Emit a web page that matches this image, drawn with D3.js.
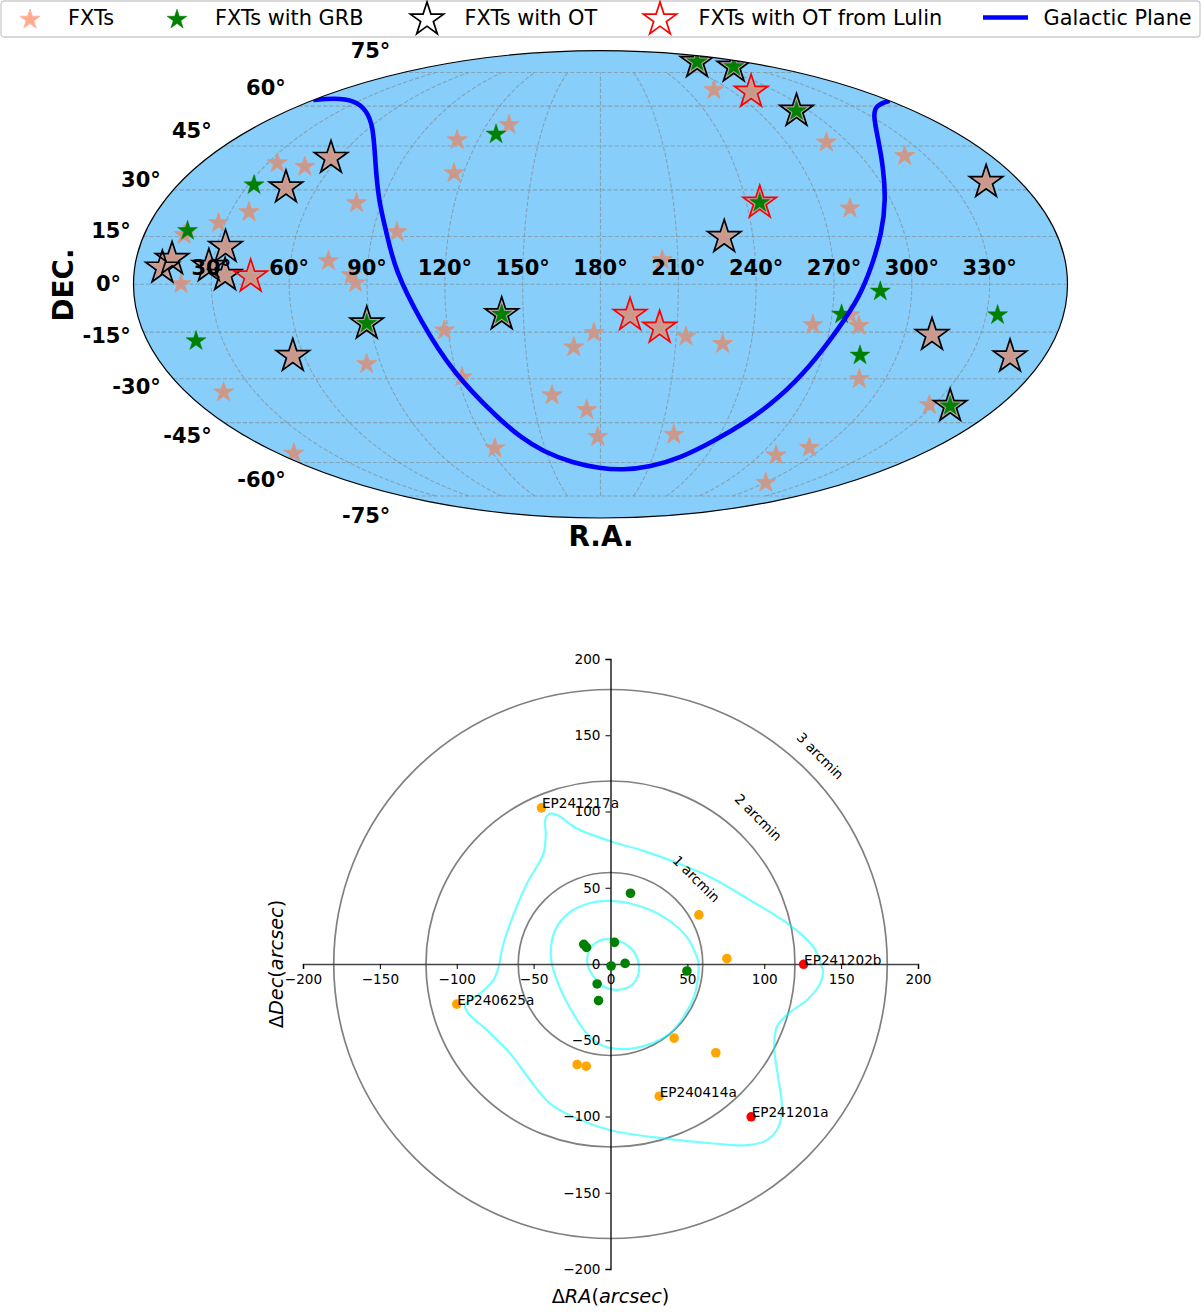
<!DOCTYPE html>
<html lang="en">
<head>
<meta charset="utf-8">
<title>FXT sky map</title>
<script src="https://cdnjs.cloudflare.com/ajax/libs/d3/7.8.5/d3.min.js"></script>
<style>
    html, body { margin: 0; padding: 0; background: #fff; }
    svg { display: block; }
    text { font-family: "DejaVu Sans", sans-serif; fill: #000; }
    .bold { font-weight: bold; }
</style>
</head>
<body>
<svg width="1201" height="1313"></svg>
<script>
// sky map values, [R.A., Dec.] in degrees
var fxts = [[34.3,39.0],[48.1,37.8],[79.7,25.7],[37.5,22.8],[27.4,19.3],[15.8,15.5],[74.6,7.3],[83.8,2.9],[85.6,0.4],[18.3,0.1],
    [99.5,16.4],[258.7,66.8],[131.8,52.7],[109.8,47.1],[115.8,35.6],[203.9,7.6],[289.6,46.3],[320.3,41.5],[281.7,24.0],[84.1,-25.2],
    [16.2,-34.5],[8.8,-56.4],[118.6,-14.4],[121.8,-29.5],[122.9,-54.4],[177.4,-15.2],[169.3,-19.8],[213.8,-16.4],[228.7,-18.7],
    [158.8,-35.5],[173.7,-40.5],[178.6,-50.1],[216.9,-49.3],[263.1,-12.7],[277.0,-9.6],[281.2,-13.0],[289.1,-30.1],[279.2,-57.1],
    [292.6,-54.2],[300.5,-68.6],[328.0,-38.8]];
var otFxts = [[56.5,40.8],[46.8,30.8],[33.6,11.7],[13.9,7.9],[10.7,5.2],[28.6,5.7],[35.2,2.9],[228.7,14.8],[345.3,32.6],[55.4,-22.6],
    [310.9,-15.9],[346.0,-22.8]];
var otGrbs = [[300.6,80.8],[320.8,78.1],[292.7,58.1],[88.6,-12.3],[141.6,-9.4],[337.9,-39.2]];
var lulinFxts = [[45.1,2.4],[282.4,66.0],[191.5,-9.6],[203.2,-13.6]];
var lulinGrbs = [[245.5,25.8]];
var grbs = [[32.5,31.6],[16.5,16.8],[127.5,49.2],[287.9,-2.2],[273.7,-9.4],[285.0,-22.4],[19.3,-17.8],[334.4,-9.6]];
var galacticPlane = [[0,62.5],[0,62.5],[10.3,63.3],[26.2,62.4],[44.7,58.4],[61.4,52.0],[77.4,40.1],[88.2,26.7],[95.5,16.1],[100.6,4.5],[109.6,-11.2],
    [118.5,-28.1],[132.4,-44.1],[139.1,-50.1],[148.2,-55.7],[163.6,-60.2],[179.7,-62.4],[194.3,-63.1],[210.6,-61.8],[225.9,-58.3],
    [238.7,-51.9],[249.7,-44.7],[258.2,-37.1],[266.3,-26.1],[273.9,-13.3],[280.1,-3.7],[284.8,5.5],[291.1,16.0],[297.9,26.7],
    [306.1,37.8],[316.1,47.1],[331.8,56.2],[344.7,60.3],[360,62.2],[360,62.2]];
var raTicks = [30,60,90,120,150,180,210,240,270,300,330];
var decTicks = [-75,-60,-45,-30,-15,0,15,30,45,60,75];

// offset plot values, arcsec
var radioGroup = [[13,46.4],[2.6,14.2],[-17.4,12.9],[-15.6,10.9],[9.5,0.4],[0.4,-1.3],[49.7,-4.6],[-8.7,-13.1],[-7.8,-24]];
var orangeGroup = [[-44.9,102.4],[57.5,32.2],[75.7,3.5],[-100,-26.3],[41.4,-48.6],[68.5,-58.2],[-21.7,-65.9],[-15.8,-67],[31.7,-86.7]];
var redGroup = [[125.6,-0.2],[91.5,-100.2]];
var sourceNames = ["EP241217a","EP240625a","EP240414a","EP241202b","EP241201a"];
var sourcePoints = [[-44.9,102.4],[-100,-26.3],[31.7,-86.7],[125.6,-0.2],[91.5,-100.2]];
var ringRadii = [60,120,180];
var ringNames = ["1 arcmin","2 arcmin","3 arcmin"];
var ringNameRadii = [79,136,193];
var offsetTicks = [-200,-150,-100,-50,0,50,100,150,200];
var contourInner = [[-6.7,15.5],[0,16.2],[9.5,13.3],[16,6.8],[18.7,-2],[17.6,-8.3],[13.9,-13.8],[4.1,-17],[-3.5,-15.3],[-11,-8.3],[-15,0.4],[-13.7,9]];
var contourMiddle = [[0,41.4],[17.1,38.5],[34.5,30.9],[49.7,17.7],[56.2,4.6],[57.3,0.4],[55,-19.3],[47.5,-34.6],[38.8,-45.5],[23.6,-53.2],[8.5,-55.8],
    [-4.6,-53.8],[-15.4,-45.5],[-26.2,-29.1],[-34.9,-10.5],[-38.8,4.7],[-36,22.1],[-26.2,34.1],[-13.2,40]];
var contourOuter = [[-42.5,94.3],[-39.3,98.7],[-33.8,97.2],[-21.9,88.8],[0,80.5],[21.5,74.2],[43.2,66.3],[64.8,57.1],[90.9,41.8],[116.9,25.4],[132,11.2],
    [137.5,-2],[138.2,-3.9],[136.4,-12.7],[127.8,-23.6],[115.8,-32.4],[108.2,-41.1],[106.5,-54.3],[109.3,-76.1],[111.5,-93.7],[109.3,-106.8],[101.7,-115.5],
    [88.7,-118.8],[67,-117.7],[34.5,-114.4],[0,-109],[-21.9,-101.3],[-39.3,-91.5],[-52.3,-76.1],[-65.3,-58.6],[-80.5,-43.3],[-92.4,-32.4],[-94.6,-26.9],
    [-84.8,-19.3],[-76.1,-10.5],[-72.2,0.4],[-70.7,9],[-65.3,26.5],[-54.4,52.7],[-43.6,72.4],[-42.1,85.6]];

var svg = d3.select("svg");

// ---- Mollweide map ----
var mapX = d3.scaleLinear().domain([-1, 1]).range([133.5, 1067.5]),
    mapY = d3.scaleLinear().domain([-1, 1]).range([518, 50.6]);

function mollweide(ra, dec) {
    var lon = (ra - 180) * Math.PI / 180,
        lat = dec * Math.PI / 180,
        t = lat;
    for (var i = 0; i < 30; i++) {
        t -= (2 * t + Math.sin(2 * t) - Math.PI * Math.sin(lat)) / (2 + 2 * Math.cos(2 * t));
    }
    return [mapX(lon / Math.PI * Math.cos(t)), mapY(Math.sin(t))];
}

var small = d3.symbol().type(d3.symbolStar).size(124)(),
    big = d3.symbol().type(d3.symbolStar).size(344)();

var skyLine = d3.line()
    .x(function(d) { return mollweide(d[0], d[1])[0]; })
    .y(function(d) { return mollweide(d[0], d[1])[1]; });

svg.append("defs").append("clipPath").attr("id", "sky").append("ellipse")
    .attr("cx", mapX(0)).attr("cy", mapY(0))
    .attr("rx", mapX(1) - mapX(0)).attr("ry", mapY(-1) - mapY(0));

svg.append("ellipse")
    .attr("cx", mapX(0)).attr("cy", mapY(0))
    .attr("rx", mapX(1) - mapX(0)).attr("ry", mapY(-1) - mapY(0))
    .attr("fill", "#87cefa");

var sky = svg.append("g").attr("clip-path", "url(#sky)");

// grid
var grid = sky.append("g").attr("fill", "none").attr("stroke", "#808080")
    .attr("stroke-opacity", 0.55).attr("stroke-width", 1.1).attr("stroke-dasharray", "4.2 2");
raTicks.concat([]).forEach(function(ra) {
    grid.append("path").attr("d", skyLine(d3.range(-75, 75.5, 1.5).map(function(dec) { return [ra, dec]; })));
});
decTicks.forEach(function(dec) {
    grid.append("path").attr("d", skyLine([[0, dec], [360, dec]]));
});

function stars(data, path, attrs) {
    var sel = sky.append("g").selectAll("path").data(data).enter().append("path")
        .attr("d", path)
        .attr("transform", function(d) {
            var p = mollweide(d[0], d[1]);
            return "translate(" + p[0] + "," + p[1] + ")";
        });
    Object.keys(attrs).forEach(function(k) { sel.attr(k, attrs[k]); });
}

var bigFill = { fill: "#bda5a6", "fill-opacity": 0.9, stroke: "none" };
var salmon = { fill: "#c9998e", stroke: "#d49a86", "stroke-width": 1 };
var green = { fill: "#008000", stroke: "#008000", "stroke-width": 0.5 };

stars(otFxts.concat(otGrbs, lulinFxts, lulinGrbs), big, bigFill);
stars(fxts.concat(otFxts, lulinFxts), small, salmon);
stars(grbs.concat(otGrbs, lulinGrbs), small, green);

sky.append("path")
    .attr("d", skyLine.curve(d3.curveBasis)(galacticPlane))
    .attr("fill", "none").attr("stroke", "#0000ff").attr("stroke-width", 4.6);

stars(otFxts.concat(otGrbs), big, { fill: "none", stroke: "#000", "stroke-width": 1.7 });
stars(lulinFxts.concat(lulinGrbs), big, { fill: "none", stroke: "#ff0000", "stroke-width": 1.7 });

svg.append("ellipse")
    .attr("cx", mapX(0)).attr("cy", mapY(0))
    .attr("rx", mapX(1) - mapX(0)).attr("ry", mapY(-1) - mapY(0))
    .attr("fill", "none").attr("stroke", "#000").attr("stroke-width", 1.2);

// map tick labels
svg.append("g").selectAll("text").data(raTicks).enter().append("text")
    .attr("class", "bold").attr("font-size", 21).attr("text-anchor", "middle")
    .attr("x", function(d) { return mollweide(d, 0)[0]; })
    .attr("y", mapY(0) - 17).attr("dy", "0.36em")
    .text(function(d) { return d + "°"; });

svg.append("g").selectAll("text").data(decTicks).enter().append("text")
    .attr("class", "bold").attr("font-size", 21).attr("text-anchor", "end")
    .attr("x", function(d) { return mollweide(0, d)[0] - 12.5; })
    .attr("y", function(d) { return 283 + (mollweide(0, d)[1] - mapY(0)) * 1.1; })
    .attr("dy", "0.36em")
    .text(function(d) { return d + "°"; });

svg.append("text").attr("class", "bold").attr("font-size", 27.8).attr("text-anchor", "middle")
    .attr("x", 601).attr("y", 545.5).text("R.A.");
svg.append("text").attr("class", "bold").attr("font-size", 27.8).attr("text-anchor", "middle")
    .attr("transform", "translate(73,285) rotate(-90)").text("DEC.");

// legend
svg.append("rect").attr("x", 1).attr("y", 1).attr("width", 1199).attr("height", 36).attr("rx", 3)
    .attr("fill", "#fff").attr("stroke", "#ccc").attr("stroke-width", 1.3);

var legendY = 19.5;
function legendStar(x, path, fill, stroke, sw) {
    svg.append("path").attr("d", path).attr("transform", "translate(" + x + "," + legendY + ")")
        .attr("fill", fill).attr("stroke", stroke).attr("stroke-width", sw);
}
legendStar(30, small, "#ffaa90", "#ffb8a0", 1);
legendStar(177, small, "#008000", "#008000", 0.5);
legendStar(427, big, "#fff", "#000", 1.7);
legendStar(660, big, "#fff", "#ff0000", 1.7);
svg.append("line").attr("x1", 983).attr("x2", 1028).attr("y1", 17.5).attr("y2", 17.5)
    .attr("stroke", "#0000ff").attr("stroke-width", 4.6);

var legendNames = ["FXTs", "FXTs with GRB", "FXTs with OT", "FXTs with OT from Lulin", "Galactic Plane"];
var legendX = [68, 215, 464.5, 698.5, 1043.5];
svg.append("g").selectAll("text").data(legendNames).enter().append("text")
    .attr("font-size", 20.85)
    .attr("x", function(d, i) { return legendX[i]; })
    .attr("y", 17.5).attr("dy", "0.36em")
    .text(function(d) { return d; });

// ---- offset plot ----
var xScale = d3.scaleLinear().domain([-200, 200]).range([303, 918]),
    yScale = d3.scaleLinear().domain([-200, 200]).range([1269, 659]);

var off = svg.append("g");

off.append("g").selectAll("ellipse").data(ringRadii).enter().append("ellipse")
    .attr("cx", xScale(0)).attr("cy", yScale(0))
    .attr("rx", function(d) { return xScale(d) - xScale(0); })
    .attr("ry", function(d) { return yScale(0) - yScale(d); })
    .attr("fill", "none").attr("stroke", "#808080").attr("stroke-width", 1.7);

var contour = d3.line()
    .x(function(d) { return xScale(d[0]); })
    .y(function(d) { return yScale(d[1]); })
    .curve(d3.curveCatmullRomClosed);

off.append("g").selectAll("path").data([contourInner, contourMiddle, contourOuter]).enter().append("path")
    .attr("d", contour)
    .attr("fill", "none").attr("stroke", "#00ffff").attr("stroke-opacity", 0.55).attr("stroke-width", 2.2);

var xAxisG = off.append("g").attr("transform", "translate(0," + yScale(0) + ")")
    .call(d3.axisBottom(xScale).tickValues(offsetTicks).tickSize(5).tickPadding(5));
var yAxisG = off.append("g").attr("transform", "translate(" + xScale(0) + ",0)")
    .call(d3.axisLeft(yScale).tickValues(offsetTicks).tickSize(5).tickPadding(5));
xAxisG.select(".domain").attr("stroke", "#444").attr("stroke-width", 1.7);
yAxisG.select(".domain").attr("stroke", "#000").attr("stroke-width", 1.3);
off.selectAll(".tick text").attr("font-size", 13.6).attr("font-family", "DejaVu Sans").style("fill", "#000");
off.selectAll(".tick line").attr("stroke-width", 1);

function dots(data, colour) {
    off.append("g").selectAll("circle").data(data).enter().append("circle")
        .attr("cx", function(d) { return xScale(d[0]); })
        .attr("cy", function(d) { return yScale(d[1]); })
        .attr("r", 4.8).attr("fill", colour);
}
dots(radioGroup, "#008000");
dots(orangeGroup, "#ffa500");
dots(redGroup, "#ff0000");

off.append("g").selectAll("text").data(sourceNames).enter().append("text")
    .attr("font-size", 13.6)
    .attr("x", function(d, i) { return xScale(sourcePoints[i][0]) + 0.5; })
    .attr("y", function(d, i) { return yScale(sourcePoints[i][1]) + 0.5; })
    .text(function(d) { return d; });

off.append("g").selectAll("text").data(ringNames).enter().append("text")
    .attr("font-size", 13.6).attr("text-anchor", "middle").attr("dy", "0.36em")
    .attr("transform", function(d, i) {
        var r = ringNameRadii[i] * Math.SQRT1_2;
        return "translate(" + xScale(r) + "," + yScale(r) + ") rotate(45)";
    })
    .text(function(d) { return d; });

off.append("text").attr("font-size", 19.3).attr("text-anchor", "middle")
    .attr("x", xScale(0)).attr("y", 1303)
    .html('Δ<tspan font-style="italic">RA</tspan>(<tspan font-style="italic">arcsec</tspan>)');
off.append("text").attr("font-size", 19.3).attr("text-anchor", "middle")
    .attr("transform", "translate(283," + yScale(0) + ") rotate(-90)")
    .html('Δ<tspan font-style="italic">Dec</tspan>(<tspan font-style="italic">arcsec</tspan>)');
</script>
</body>
</html>
